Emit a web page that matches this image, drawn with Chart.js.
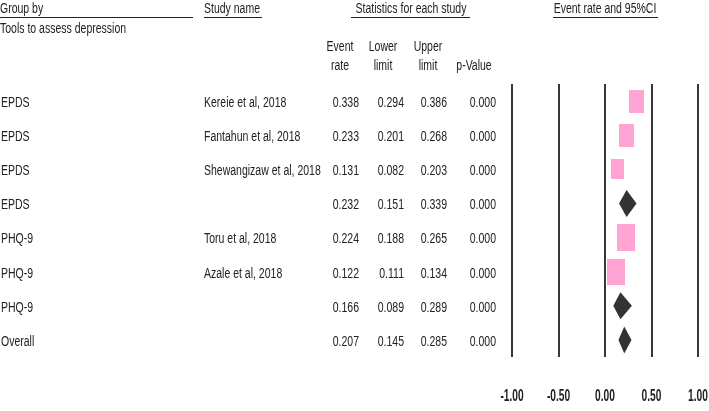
<!DOCTYPE html>
<html><head><meta charset="utf-8">
<script src="https://cdn.jsdelivr.net/npm/chart.js@4/dist/chart.umd.min.js"></script>
<style>html,body{margin:0;padding:0;background:#fff;overflow:hidden}#wrap{width:709px;height:411px;position:relative}</style>
</head><body><div id="wrap"><canvas id="c"></canvas></div>
<script>
const groups = ['EPDS','EPDS','EPDS','EPDS','PHQ-9','PHQ-9','PHQ-9','Overall'];
const studies = ['Kereie et al, 2018','Fantahun et al, 2018','Shewangizaw et al, 2018','','Toru et al, 2018','Azale et al, 2018','',''];
const eventRate = [0.338,0.233,0.131,0.232,0.224,0.122,0.166,0.207];
const lowerLimit = [0.294,0.201,0.082,0.151,0.188,0.111,0.089,0.145];
const upperLimit = [0.386,0.268,0.203,0.339,0.265,0.134,0.289,0.285];
const pValue = ['0.000','0.000','0.000','0.000','0.000','0.000','0.000','0.000'];
const isSummary = [false,false,false,true,false,false,true,true];
const relWeight = [0.85,0.85,0.74,0,1.0,0.98,0,0];
const xTicks = [-1,-0.5,0,0.5,1];

const FONT = "'Liberation Sans',Arial,sans-serif";
const TXT = '#222';
const PINK = '#ffa4d3';
const DARK = '#333333';
const SX = 0.75;

function boxCanvas(w){
  const c = document.createElement('canvas');
  const bw = Math.round(18*w), bh = Math.round(27*w);
  c.width = bw; c.height = bh;
  const g = c.getContext('2d');
  g.fillStyle = PINK; g.fillRect(0,0,bw,bh);
  return c;
}

const pts = [], styles = [];
eventRate.forEach((v,i)=>{ if(!isSummary[i]){ pts.push({x:v,y:i+1}); styles.push(boxCanvas(relWeight[i])); } });

function txt(ctx,t,x,y,align,sx){
  ctx.save(); ctx.translate(x,y); ctx.scale(sx,1); ctx.textAlign=align; ctx.fillText(t,0,0); ctx.restore();
}

const textPlugin = {
  id:'texts',
  afterDraw(chart){
    const ctx = chart.ctx, xs = chart.scales.x, ys = chart.scales.y;
    ctx.save();
    ctx.fillStyle = TXT; ctx.strokeStyle = TXT; ctx.lineWidth = 1;
    ctx.textBaseline = 'middle';
    ctx.font = '14px '+FONT;
    const ul = (t,x,y,align,x1,x2)=>{
      txt(ctx,t,x,y,align,SX);
      ctx.beginPath(); ctx.moveTo(x1,17.5); ctx.lineTo(x2,17.5); ctx.stroke();
    };
    ul('Group by',0,9,'left',0,193);
    ul('Study name',204,9,'left',204,262);
    ul('Statistics for each study',411,9,'center',351,470);
    ul('Event rate and 95%CI',605,9,'center',553,658);
    txt(ctx,'Tools to assess depression',0,29,'left',SX);
    const hx=[340,383,428,474];
    [['Event','rate'],['Lower','limit'],['Upper','limit'],['','p-Value']].forEach((h,k)=>{
      txt(ctx,h[0],hx[k],47,'center',SX); txt(ctx,h[1],hx[k],66,'center',SX);
    });
    groups.forEach((g,i)=>{
      const y = ys.getPixelForValue(i+1)+2;
      txt(ctx,g,1,y,'left',SX);
      txt(ctx,studies[i],204,y,'left',SX);
      txt(ctx,eventRate[i].toFixed(3),359,y,'right',SX);
      txt(ctx,lowerLimit[i].toFixed(3),404,y,'right',SX);
      txt(ctx,upperLimit[i].toFixed(3),447,y,'right',SX);
      txt(ctx,pValue[i],496,y,'right',SX);
    });
    ctx.font = 'bold 17px '+FONT;
    xTicks.forEach(v=>{
      txt(ctx,v.toFixed(2),xs.getPixelForValue(v),396,'center',0.6);
    });
    ctx.restore();
  }
};

const diamondPlugin = {
  id:'diamonds',
  afterDatasetsDraw(chart){
    const ctx = chart.ctx, xs = chart.scales.x, ys = chart.scales.y;
    ctx.save(); ctx.fillStyle = DARK;
    eventRate.forEach((v,i)=>{
      if(!isSummary[i]) return;
      const y = ys.getPixelForValue(i+1), h = 13.5;
      const xl = xs.getPixelForValue(lowerLimit[i]), xm = xs.getPixelForValue(v), xu = xs.getPixelForValue(upperLimit[i]);
      ctx.beginPath(); ctx.moveTo(xl,y); ctx.lineTo(xm,y-h); ctx.lineTo(xu,y); ctx.lineTo(xm,y+h); ctx.closePath(); ctx.fill();
    });
    ctx.restore();
  }
};

new Chart(document.getElementById('c'),{
  type:'scatter',
  data:{datasets:[{data:pts,pointStyle:styles,pointRadius:10,pointHoverRadius:10,backgroundColor:PINK,borderWidth:0}]},
  options:{
    responsive:true, maintainAspectRatio:false, animation:false,
    layout:{padding:{left:512,right:11,top:84,bottom:6}},
    plugins:{legend:{display:false},tooltip:{enabled:false}},
    scales:{
      x:{type:'linear',min:-1,max:1,
        afterBuildTicks(s){ s.ticks = xTicks.map(v=>({value:v})); },
        afterFit(s){ s.height = 48; s.paddingLeft = 0; s.paddingRight = 0; },
        grid:{color:'#383838',lineWidth:2,drawTicks:false},
        border:{display:false},
        ticks:{display:false}
      },
      y:{type:'linear',min:0.5,max:8.5,reverse:true,display:false}
    }
  },
  plugins:[diamondPlugin,textPlugin]
});
</script></body></html>
